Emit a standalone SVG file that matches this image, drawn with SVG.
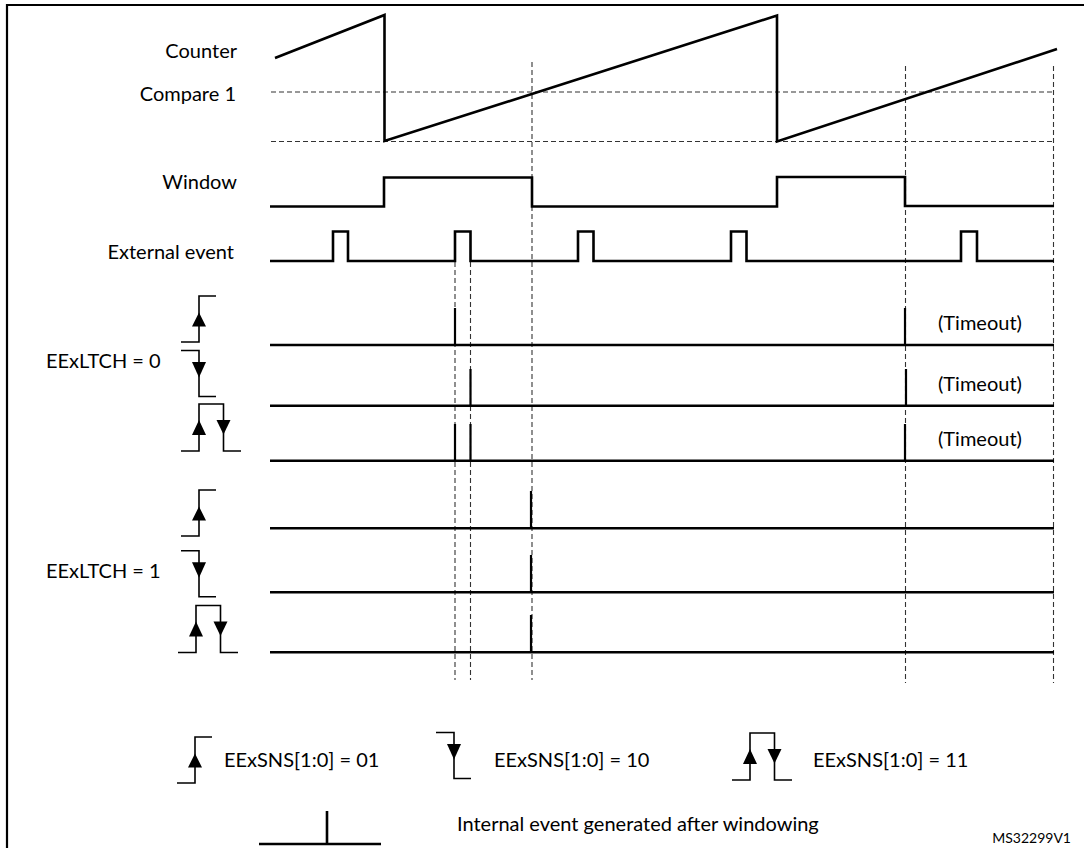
<svg xmlns="http://www.w3.org/2000/svg" xmlns:xlink="http://www.w3.org/1999/xlink" width="1084" height="848" viewBox="0 0 1084 848">
<style>
  .t { font-family: Lato, "Liberation Sans", sans-serif; font-size: 20px; fill: #000; }
  .r { text-anchor: end; }
  .sig { fill: none; stroke: #000; stroke-width: 2.6; stroke-linejoin: miter; }
  .pulse { fill: none; stroke: #000; stroke-width: 2.2; }
  .dash { fill: none; stroke: #333; stroke-width: 1.1; stroke-dasharray: 5 3; }
  .sym { fill: none; stroke: #000; stroke-width: 1.6; }
  .ah { fill: #000; stroke: none; }
  .frame { fill: none; stroke: #000; stroke-width: 2.2; }
</style>
<defs>
  <g id="rise">
    <path class="sym" d="M-18,46 H0 V0 H17"/>
    <polygon class="ah" points="0,16.5 -7,30.5 7,30.5"/>
  </g>
  <g id="fall">
    <path class="sym" d="M-18,0 H0 V46 H17"/>
    <polygon class="ah" points="-7,11.5 7,11.5 0,27"/>
  </g>
  <g id="both">
    <path class="sym" d="M-18,47 H0 V0 H24.5 V47 H42"/>
    <polygon class="ah" points="0,16 -7,31 7,31"/>
    <polygon class="ah" points="17.5,16 31.5,16 24.5,30.5"/>
  </g>
</defs>

<g id="frame">
  <path class="frame" d="M7,848 V5 H1084"/>
</g>

<g id="labels">
  <text class="t r" x="237" y="58">Counter</text>
  <text class="t r" x="236" y="101">Compare 1</text>
  <text class="t r" x="237" y="189">Window</text>
  <text class="t r" x="234" y="259">External event</text>
  <text class="t" x="46" y="368">EExLTCH = 0</text>
  <text class="t" x="46" y="578">EExLTCH = 1</text>
  <text class="t" x="938" y="330">(Timeout)</text>
  <text class="t" x="938" y="391">(Timeout)</text>
  <text class="t" x="938" y="446">(Timeout)</text>
</g>

<g id="guides">
  <line class="dash" x1="271" y1="92" x2="1054" y2="92"/>
  <line class="dash" x1="271" y1="141.5" x2="1054" y2="141.5"/>
  <line class="dash" x1="455" y1="262" x2="455" y2="680"/>
  <line class="dash" x1="470.5" y1="262" x2="470.5" y2="680"/>
  <line class="dash" x1="532" y1="62" x2="532" y2="680"/>
  <line class="dash" x1="905.5" y1="66" x2="905.5" y2="683"/>
  <line class="dash" x1="1053.5" y1="66" x2="1053.5" y2="683"/>
</g>

<g id="counter">
  <path class="sig" d="M275,58 L384.5,15 L384.5,141 L777,15.5 L777,141.5 L1057,49"/>
</g>

<g id="window">
  <path class="sig" d="M270,206.5 H384 V177.5 H532 V206.5 H777 V177 H905 V206 H1054"/>
</g>

<g id="external-event">
  <path class="sig" d="M270,261 H333 V231.5 H348 V261 H455 V231.5 H470.5 V261 H578 V231.5 H593.5 V261 H731 V231.5 H746.5 V261 H961 V231.5 H977 V261 H1054"/>
</g>

<g id="ltch0-rise">
  <use xlink:href="#rise" href="#rise" transform="translate(199,296)"/>
  <line class="sig" x1="270" y1="345" x2="1054" y2="345"/>
  <line class="pulse" x1="455" y1="308" x2="455" y2="345"/>
  <line class="pulse" x1="905" y1="308" x2="905" y2="345"/>
</g>
<g id="ltch0-fall">
  <use xlink:href="#fall" href="#fall" transform="translate(199,350.5)"/>
  <line class="sig" x1="270" y1="405.7" x2="1054" y2="405.7"/>
  <line class="pulse" x1="470.5" y1="369" x2="470.5" y2="405.7"/>
  <line class="pulse" x1="906" y1="369" x2="906" y2="405.7"/>
</g>
<g id="ltch0-both">
  <use xlink:href="#both" href="#both" transform="translate(199,404)"/>
  <line class="sig" x1="270" y1="460.7" x2="1054" y2="460.7"/>
  <line class="pulse" x1="455" y1="424" x2="455" y2="460.7"/>
  <line class="pulse" x1="470.5" y1="424" x2="470.5" y2="460.7"/>
  <line class="pulse" x1="905" y1="424" x2="905" y2="460.7"/>
</g>

<g id="ltch1-rise">
  <use xlink:href="#rise" href="#rise" transform="translate(199,490)"/>
  <line class="sig" x1="270" y1="528.3" x2="1054" y2="528.3"/>
  <line class="pulse" x1="531" y1="491" x2="531" y2="528.3"/>
</g>
<g id="ltch1-fall">
  <use xlink:href="#fall" href="#fall" transform="translate(199,550.7)"/>
  <line class="sig" x1="270" y1="592.3" x2="1054" y2="592.3"/>
  <line class="pulse" x1="531" y1="555" x2="531" y2="592.3"/>
</g>
<g id="ltch1-both">
  <use xlink:href="#both" href="#both" transform="translate(196,605.5)"/>
  <line class="sig" x1="270" y1="652.3" x2="1054" y2="652.3"/>
  <line class="pulse" x1="531" y1="615" x2="531" y2="652.3"/>
</g>

<g id="legend-rise">
  <use xlink:href="#rise" href="#rise" transform="translate(195,737)"/>
  <text class="t" x="224" y="767">EExSNS[1:0] = 01</text>
</g>
<g id="legend-fall">
  <use xlink:href="#fall" href="#fall" transform="translate(454,732.5)"/>
  <text class="t" x="494" y="767">EExSNS[1:0] = 10</text>
</g>
<g id="legend-both">
  <use xlink:href="#both" href="#both" transform="translate(750,733)"/>
  <text class="t" x="813" y="767">EExSNS[1:0] = 11</text>
</g>
<g id="legend-pulse">
  <path class="sig" d="M259,844 H381 M327,811 V844"/>
  <text class="t" x="457" y="831">Internal event generated after windowing</text>
</g>
<text class="t r" x="1071" y="843" style="font-size:14px">MS32299V1</text>
</svg>
